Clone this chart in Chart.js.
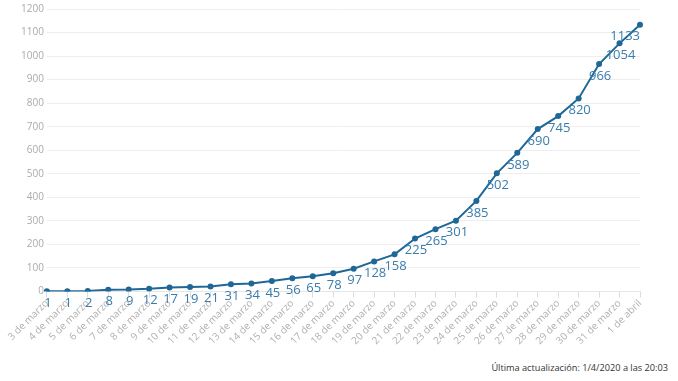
<!DOCTYPE html>
<html><head><meta charset="utf-8">
<script src="https://cdn.jsdelivr.net/npm/chart.js@4"></script>
<style>
html,body{margin:0;padding:0;background:#fff;}
#wrap{position:relative;width:678px;height:381px;}
#c{position:absolute;left:0;top:0;}
#foot{position:absolute;right:10px;top:361px;font:400 9.2px "Open Sans",sans-serif;color:#333;}
</style></head>
<body>
<div id="wrap">
<canvas id="c" width="678" height="347"></canvas>
<div id="foot">Última actualización: 1/4/2020 a las 20:03</div>
</div>
<script>
const categories = ["3 de marzo","4 de marzo","5 de marzo","6 de marzo","7 de marzo","8 de marzo","9 de marzo","10 de marzo","11 de marzo","12 de marzo","13 de marzo","14 de marzo","15 de marzo","16 de marzo","17 de marzo","18 de marzo","19 de marzo","20 de marzo","21 de marzo","22 de marzo","23 de marzo","24 de marzo","25 de marzo","26 de marzo","27 de marzo","28 de marzo","29 de marzo","30 de marzo","31 de marzo","1 de abril"];
const casos = [1,1,2,8,9,12,17,19,21,31,34,45,56,65,78,97,128,158,225,265,301,385,502,589,690,745,820,966,1054,1133];
const yTicks = [0,100,200,300,400,500,600,700,800,900,1000,1100,1200];

const labelPlugin = {
  id: 'pointLabels',
  afterDatasetsDraw(chart) {
    const ctx = chart.ctx;
    const meta = chart.getDatasetMeta(0);
    const area = chart.chartArea;
    ctx.save();
    ctx.font = '13px "Open Sans", sans-serif';
    ctx.fillStyle = '#3a7cab';
    ctx.textAlign = 'center';
    ctx.textBaseline = 'middle';
    meta.data.forEach((pt, i) => {
      const txt = String(casos[i]);
      const w = ctx.measureText(txt).width;
      let x = pt.x + 1;
      if (x + w / 2 > area.right) x = area.right - w / 2;
      ctx.fillText(txt, x, pt.y + 12);
    });
    ctx.restore();
  }
};

new Chart(document.getElementById('c'), {
  type: 'line',
  data: {
    labels: categories,
    datasets: [{
      data: casos,
      borderColor: '#1f6796',
      backgroundColor: '#1f6796',
      borderWidth: 2,
      pointRadius: 3,
      pointBorderWidth: 0,
      pointHoverRadius: 3,
      tension: 0,
      fill: false
    }]
  },
  options: {
    responsive: false,
    animation: false,
    layout: { padding: { left: 18, right: 38, top: -2, bottom: 0 } },
    plugins: { legend: { display: false }, tooltip: { enabled: false } },
    scales: {
      x: {
        offset: false,
        grid: { drawOnChartArea: false, drawTicks: true, tickLength: 6, color: '#dcdcdc' },
        border: { color: '#e6e6e6' },
        ticks: {
          autoSkip: false, maxRotation: 45, minRotation: 45,
          color: '#b0b0b0', font: { size: 10, family: '"Open Sans", sans-serif' }, padding: 0
        }
      },
      y: {
        min: 0, max: 1200,
        afterBuildTicks(scale) { scale.ticks = yTicks.map(v => ({ value: v })); },
        grid: { color: '#eeeeee', drawTicks: false },
        border: { display: false },
        ticks: { color: '#aaaaaa', font: { size: 10, family: '"Open Sans", sans-serif' }, padding: 3,
          callback: (v) => String(v) }
      }
    }
  },
  plugins: [labelPlugin]
});
</script>
</body></html>
